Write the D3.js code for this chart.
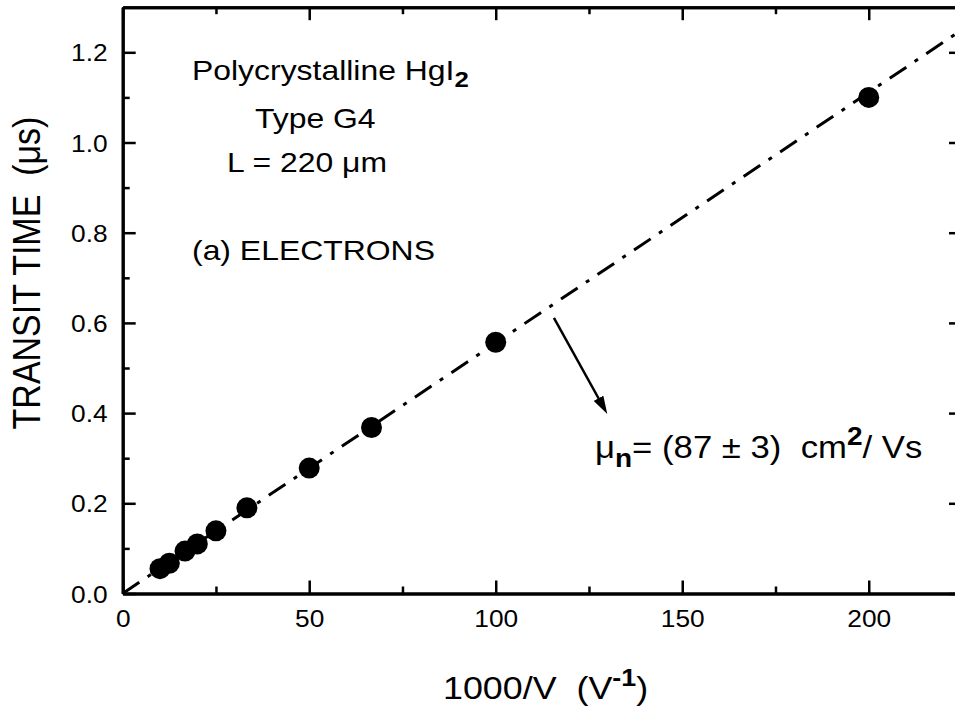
<!DOCTYPE html>
<html>
<head>
<meta charset="utf-8">
<script src="https://cdn.jsdelivr.net/npm/d3@7"></script>
<style>
  body { margin: 0; background: #fff; }
  svg { display: block; font-family: "Liberation Sans", Arial, Helvetica, sans-serif; }
  text { fill: #000; white-space: pre; }
</style>
</head>
<body>
<div id="chart"></div>
<script>
// Data_____________________________________________
const invVolt = [10, 12.5, 16.7, 20, 25, 33.3, 50, 66.7, 100, 200];
const transit = [0.055, 0.067, 0.094, 0.110, 0.139, 0.190, 0.278, 0.368, 0.557, 1.100];
const fitX = [0, 225];
const fitY = [0, 1.25];
const arrowX = [115.6, 129.9];
const arrowY = [0.611, 0.398];
const xMajor = [0, 50, 100, 150, 200];
const xMinor = [25, 75, 125, 175];
const yMajor = [0, 0.2, 0.4, 0.6, 0.8, 1.0, 1.2];
const yMinor = [0.1, 0.3, 0.5, 0.7, 0.9, 1.1];

// Layout___________________________________________
const width = 955;
const height = 711;
const sx = 1.12; // text in the original is a bit wide

const svg = d3.select('#chart')
    .append('svg')
    .attr('width', width)
    .attr('height', height);

const x = d3.scaleLinear().domain([0, 225]).range([122.7, 962]);
const y = d3.scaleLinear().domain([0, 1.3]).range([593.5, 7.2]);

// Axes_____________________________________________
function styleAxis(g) {
    g.attr('font-family', null).attr('font-size', null);
    g.select('.domain').attr('stroke', '#000').attr('stroke-width', 3);
    g.selectAll('.tick line').attr('stroke', '#000').attr('stroke-width', 2.5);
    g.selectAll('.tick text')
        .attr('font-size', 23.5)
        .attr('fill', '#000')
        .attr('transform', `scale(${sx},1)`);
}

// bottom
svg.append('g')
    .attr('transform', `translate(0,${y(0)})`)
    .call(d3.axisBottom(x).tickValues(xMajor).tickSize(-13).tickSizeOuter(0)
        .tickPadding(17).tickFormat(d3.format('d')))
    .call(styleAxis);
svg.append('g')
    .attr('transform', `translate(0,${y(0)})`)
    .call(d3.axisBottom(x).tickValues(xMinor).tickSize(-7).tickSizeOuter(0).tickFormat(''))
    .call(styleAxis);
// top
svg.append('g')
    .attr('transform', `translate(0,${y(1.3)})`)
    .call(d3.axisTop(x).tickValues(xMajor).tickSize(-13).tickSizeOuter(0).tickFormat(''))
    .call(styleAxis);
svg.append('g')
    .attr('transform', `translate(0,${y(1.3)})`)
    .call(d3.axisTop(x).tickValues(xMinor).tickSize(-7).tickSizeOuter(0).tickFormat(''))
    .call(styleAxis);
// left
svg.append('g')
    .attr('transform', `translate(${x(0)},0)`)
    .call(d3.axisLeft(y).tickValues(yMajor).tickSize(-13).tickSizeOuter(0)
        .tickPadding(15 / sx).tickFormat(d3.format('.1f')))
    .call(styleAxis)
    .selectAll('.tick text').attr('dy', '0.37em');
svg.append('g')
    .attr('transform', `translate(${x(0)},0)`)
    .call(d3.axisLeft(y).tickValues(yMinor).tickSize(-7).tickSizeOuter(0).tickFormat(''))
    .call(styleAxis);
// right
svg.append('g')
    .attr('transform', `translate(${x(225)},0)`)
    .call(d3.axisRight(y).tickValues(yMajor).tickSize(-13).tickSizeOuter(0).tickFormat(''))
    .call(styleAxis);
svg.append('g')
    .attr('transform', `translate(${x(225)},0)`)
    .call(d3.axisRight(y).tickValues(yMinor).tickSize(-7).tickSizeOuter(0).tickFormat(''))
    .call(styleAxis);

// Fit line_________________________________________
const fit = fitX.map((d, i) => [d, fitY[i]]);
svg.append('path')
    .datum(fit)
    .attr('d', d3.line().x(d => x(d[0])).y(d => y(d[1])))
    .attr('fill', 'none')
    .attr('stroke', '#000')
    .attr('stroke-width', 3)
    .attr('stroke-dasharray', '20,10,4,10');

// Points___________________________________________
svg.append('g')
    .selectAll('circle')
    .data(invVolt.map((d, i) => [d, transit[i]]))
    .enter()
    .append('circle')
    .attr('cx', d => x(d[0]))
    .attr('cy', d => y(d[1]))
    .attr('r', 10.5)
    .attr('fill', '#000');

// Arrow____________________________________________
svg.append('defs').append('marker')
    .attr('id', 'head')
    .attr('markerUnits', 'userSpaceOnUse')
    .attr('markerWidth', 18)
    .attr('markerHeight', 11)
    .attr('refX', 10)
    .attr('refY', 5.5)
    .attr('orient', 'auto')
    .append('path')
    .attr('d', 'M0,0 L18,5.5 L0,11 Z')
    .attr('fill', '#000');

const a0 = [x(arrowX[0]), y(arrowY[0])];
const a1 = [x(arrowX[1]), y(arrowY[1])];
const len = Math.hypot(a1[0] - a0[0], a1[1] - a0[1]);
const back = 8 / len;
svg.append('line')
    .attr('x1', a0[0]).attr('y1', a0[1])
    .attr('x2', a1[0] - (a1[0] - a0[0]) * back)
    .attr('y2', a1[1] - (a1[1] - a0[1]) * back)
    .attr('stroke', '#000')
    .attr('stroke-width', 2.5)
    .attr('marker-end', 'url(#head)');

// Text_____________________________________________
function label(px, py, size, parts, opts = {}) {
    const t = svg.append('text')
        .attr('transform', `translate(${px},${py}) scale(${sx},1)` + (opts.rotate ? ` rotate(${opts.rotate})` : ''))
        .attr('font-size', size)
        .attr('text-anchor', opts.anchor || 'start');
    parts.forEach(p => {
        t.append('tspan')
            .attr('dy', p.dy || 0)
            .attr('font-size', p.size || null)
            .attr('font-weight', p.bold ? 'bold' : null)
            .text(p.t);
    });
    return t;
}

label(192, 80, 28.5, [{t: 'Polycrystalline HgI'}, {t: '2', bold: true, size: 23, dy: 7}]);
label(255, 128, 28.5, [{t: 'Type G4'}]);
label(227, 172, 28.5, [{t: 'L = 220 μm'}]);
label(192, 260, 28.5, [{t: '(a) ELECTRONS'}]);

label(595, 458, 31, [
    {t: 'μ'},
    {t: 'n', bold: true, size: 25, dy: 9},
    {t: '= (87 ± 3)  cm', dy: -9},
    {t: '2', bold: true, size: 25, dy: -13},
    {t: '/ Vs', dy: 13}
]);

label(40, 273, 34, [{t: 'TRANSIT TIME  (μs)'}], {rotate: -90, anchor: 'middle'});

label(443, 699, 32, [
    {t: '1000/V  (V'},
    {t: '-1', bold: true, size: 24, dy: -13},
    {t: ')', dy: 13}
]);
</script>
</body>
</html>
